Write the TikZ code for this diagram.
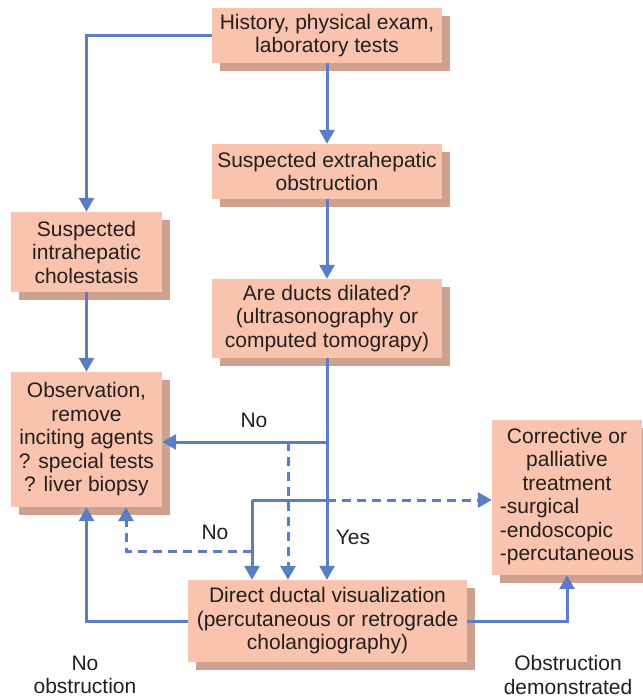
\documentclass[tikz,border=0pt]{standalone}
\usepackage{fontspec}
\setmainfont{Liberation Sans}
\usetikzlibrary{arrows.meta,shadows}
\definecolor{boxfill}{HTML}{F9C3AD}
\definecolor{boxshadow}{HTML}{CDA08F}
\definecolor{flow}{HTML}{5A7EC5}
\definecolor{ink}{HTML}{231F20}
\tikzset{
  box/.style={fill=boxfill, inner sep=0pt, align=center, text=ink,
    font=\fontsize{21}{23.5}\selectfont,
    general shadow={fill=boxshadow, shadow xshift=8pt, shadow yshift=-8pt}},
  lbl/.style={text=ink, inner sep=0pt, align=center, font=\fontsize{21}{23.5}\selectfont},
  arr/.style={draw=flow, line width=3pt, -{Triangle[width=15pt,length=14pt]}},
  ln/.style={draw=flow, line width=3pt},
  dsh/.style={dash pattern=on 9pt off 6pt}
}
\begin{document}
\begin{tikzpicture}[x=1pt,y=-1pt]
\useasboundingbox (0,0) rectangle (642,700);
% boxes
\node[box, minimum width=230pt, minimum height=55pt] (hist) at (327,35.5) {History, physical exam,\\laboratory tests};
\node[box, minimum width=230pt, minimum height=55pt] (extra) at (327,171.5) {Suspected extrahepatic\\obstruction};
\node[box, minimum width=230pt, minimum height=79pt] (ducts) at (327,318.5) {Are ducts dilated?\\(ultrasonography or\\computed tomograpy)};
\node[box, minimum width=151pt, minimum height=80pt] (intra) at (86.5,252) {Suspected\\intrahepatic\\cholestasis};
\node[box, minimum width=151pt, minimum height=135pt] (obs) at (86.5,439.5) {Observation,\\remove\\inciting agents\\? special tests\\? liver biopsy};
\node[box, minimum width=150pt, minimum height=155pt] (corr) at (567,497.5) {\begin{tabular}{@{}l@{}}\multicolumn{1}{@{}c@{}}{Corrective or}\\\multicolumn{1}{@{}c@{}}{palliative}\\\multicolumn{1}{@{}c@{}}{treatment}\\-surgical\\-endoscopic\\-percutaneous\end{tabular}};
\node[box, minimum width=279pt, minimum height=82pt] (direct) at (327.5,621) {Direct ductal visualization\\(percutaneous or retrograde\\cholangiography)};
% junction coordinates
\coordinate (jn) at (327,442);
\coordinate (jd) at (288,442);
\coordinate (jy) at (327,500);
\coordinate (jl) at (252,500);
\coordinate (kd) at (252,551);
\coordinate (kl) at (126,551);
% connectors
\draw[arr] (hist.west) -| (intra.north);
\draw[arr] (hist.south) -- (extra.north);
\draw[arr] (extra.south) -- (ducts.north);
\draw[arr] (intra.south) -- (obs.north);
\draw[arr] (ducts.south) -- (ducts.south |- direct.north);
\draw[arr] (jn) -- (jn -| obs.east);
\draw[arr,dsh] (jd) -- (jd |- direct.north);
\draw[ln] (jy) -- (jl);
\draw[arr] (jl) -- (jl |- direct.north);
\draw[arr,dsh] (jy) -- (jy -| corr.west);
\draw[arr,dsh] (kd) -- (kl) -- (kl |- obs.south);
\draw[arr] (direct.west) -| (obs.south);
\draw[arr] (direct.east) -| (corr.south);
% labels
\node[lbl] (no1) at (254,420) {No};
\node[lbl] (no2) at (215,532) {No};
\node[lbl] (yes) at (353,537) {Yes};
\node[lbl] (noobs) at (85,675) {No\\obstruction};
\node[lbl] (obsdem) at (568,675) {Obstruction\\demonstrated};
\end{tikzpicture}
\end{document}
